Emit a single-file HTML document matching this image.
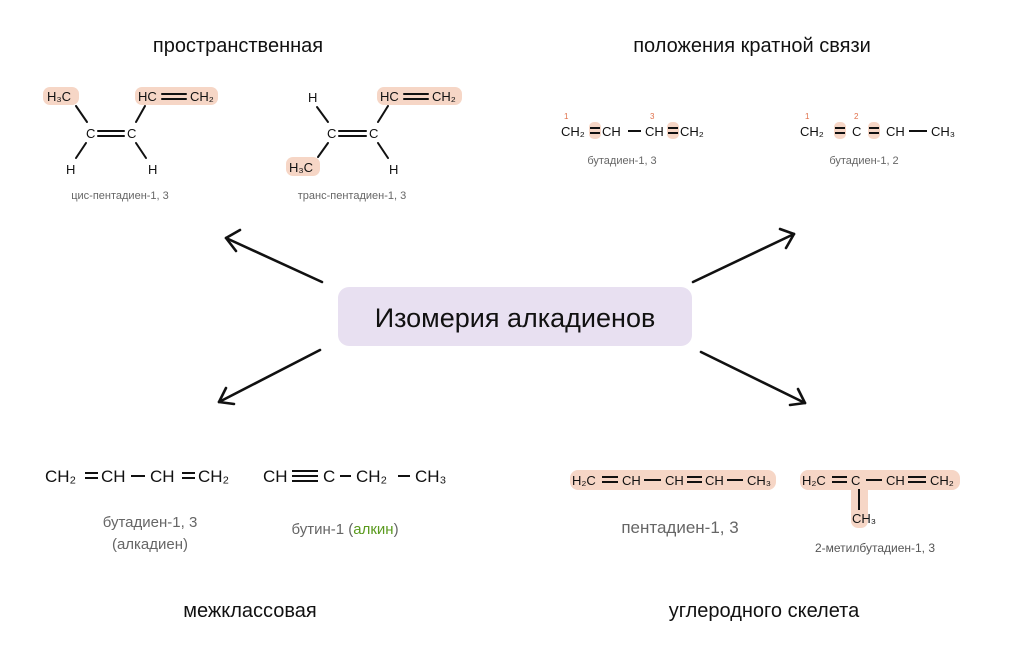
<!DOCTYPE html>
<html><head><meta charset="utf-8"><style>
html,body{margin:0;padding:0;background:#fff;}
svg{display:block;font-family:"Liberation Sans",sans-serif;}
</style></head><body>
<svg width="1024" height="650" viewBox="0 0 1024 650" xmlns="http://www.w3.org/2000/svg">
<!-- titles -->
<g font-size="20" fill="#111" text-anchor="middle">
<text x="238" y="52">пространственная</text>
<text x="752" y="52">положения кратной связи</text>
<text x="250" y="617">межклассовая</text>
<text x="764" y="617">углеродного скелета</text>
</g>
<!-- center -->
<rect x="338" y="287" width="354" height="59" rx="11" fill="#e8e0f1"/>
<text x="515" y="327" font-size="27" text-anchor="middle" fill="#111">Изомерия алкадиенов</text>
<!-- arrows -->
<g stroke="#111" stroke-width="2.6" fill="none" stroke-linecap="round" stroke-linejoin="round">
<line x1="322" y1="282" x2="226" y2="238"/><polyline points="240,230 226,238 236,251"/>
<line x1="693" y1="282" x2="794" y2="234"/><polyline points="780,229 794,234 786,248"/>
<line x1="320" y1="350" x2="219" y2="402"/><polyline points="226,388 219,402 234,404"/>
<line x1="701" y1="352" x2="805" y2="403"/><polyline points="790,405 805,403 798,389"/>
</g>
<!-- highlights -->
<g fill="#f6d6c6">
<rect x="43" y="87" width="36" height="18" rx="7"/>
<rect x="135" y="87" width="83" height="18" rx="7"/>
<rect x="377" y="87" width="85" height="18" rx="7"/>
<rect x="286" y="157" width="34" height="19" rx="7"/>
<rect x="589" y="122" width="12" height="17" rx="5"/>
<rect x="667" y="122" width="12" height="17" rx="5"/>
<rect x="834" y="122" width="12" height="17" rx="5"/>
<rect x="868" y="122" width="12" height="17" rx="5"/>
<rect x="570" y="470" width="206" height="20" rx="8"/>
<rect x="800" y="470" width="160" height="20" rx="8"/>
<rect x="851" y="470" width="17" height="58" rx="7"/>
</g>
<!-- cis/trans -->
<g font-size="13" fill="#111">
<text x="47" y="101">H₃C</text>
<text x="138" y="101">HC</text><text x="190" y="101">CH₂</text>
<text x="86" y="138">C</text><text x="127" y="138">C</text>
<text x="66" y="174">H</text><text x="148" y="174">H</text>
<text x="308" y="102">H</text>
<text x="380" y="101">HC</text><text x="432" y="101">CH₂</text>
<text x="327" y="138">C</text><text x="369" y="138">C</text>
<text x="289" y="172">H₃C</text><text x="389" y="174">H</text>
</g>
<g stroke="#111" stroke-width="2" stroke-linecap="round">
<line x1="76" y1="106" x2="87" y2="122"/><line x1="145" y1="106" x2="136" y2="122"/>
<line x1="86" y1="143" x2="76" y2="158"/><line x1="136" y1="143" x2="146" y2="158"/>
<line x1="98" y1="131" x2="124" y2="131"/><line x1="98" y1="136" x2="124" y2="136"/>
<line x1="162" y1="94" x2="186" y2="94"/><line x1="162" y1="99" x2="186" y2="99"/>
<line x1="317" y1="107" x2="328" y2="122"/><line x1="388" y1="106" x2="378" y2="122"/>
<line x1="328" y1="143" x2="318" y2="157"/><line x1="378" y1="143" x2="388" y2="158"/>
<line x1="339" y1="131" x2="366" y2="131"/><line x1="339" y1="136" x2="366" y2="136"/>
<line x1="404" y1="94" x2="428" y2="94"/><line x1="404" y1="99" x2="428" y2="99"/>
</g>
<g font-size="11" fill="#666" text-anchor="middle">
<text x="120" y="199">цис-пентадиен-1, 3</text>
<text x="352" y="199">транс-пентадиен-1, 3</text>
<text x="622" y="164">бутадиен-1, 3</text>
<text x="864" y="164">бутадиен-1, 2</text>
</g>
<!-- position isomers -->
<g font-size="8" fill="#e0704a"><text x="564" y="119">1</text><text x="650" y="119">3</text><text x="805" y="119">1</text><text x="854" y="119">2</text></g>
<g font-size="13" fill="#111">
<text x="561" y="136">CH₂</text><text x="602" y="136">CH</text><text x="645" y="136">CH</text><text x="680" y="136">CH₂</text>
<text x="800" y="136">CH₂</text><text x="852" y="136">C</text><text x="886" y="136">CH</text><text x="931" y="136">CH₃</text>
</g>
<g stroke="#111" stroke-width="2">
<line x1="590" y1="128" x2="600" y2="128"/><line x1="590" y1="133" x2="600" y2="133"/>
<line x1="668" y1="128" x2="678" y2="128"/><line x1="668" y1="133" x2="678" y2="133"/>
<line x1="628" y1="131" x2="641" y2="131"/>
<line x1="835" y1="128" x2="845" y2="128"/><line x1="835" y1="133" x2="845" y2="133"/>
<line x1="869" y1="128" x2="879" y2="128"/><line x1="869" y1="133" x2="879" y2="133"/>
<line x1="909" y1="131" x2="927" y2="131"/>
</g>
<!-- interclass -->
<g font-size="17" fill="#111">
<text x="45" y="482">CH₂</text><text x="101" y="482">CH</text><text x="150" y="482">CH</text><text x="198" y="482">CH₂</text>
<text x="263" y="482">CH</text><text x="323" y="482">C</text><text x="356" y="482">CH₂</text><text x="415" y="482">CH₃</text>
</g>
<g stroke="#111" stroke-width="2">
<line x1="85" y1="473" x2="98" y2="473"/><line x1="85" y1="478" x2="98" y2="478"/>
<line x1="131" y1="476" x2="145" y2="476"/>
<line x1="182" y1="473" x2="195" y2="473"/><line x1="182" y1="478" x2="195" y2="478"/>
<line x1="292" y1="471" x2="318" y2="471"/><line x1="292" y1="476" x2="318" y2="476"/><line x1="292" y1="481" x2="318" y2="481"/>
<line x1="340" y1="476" x2="351" y2="476"/><line x1="398" y1="476" x2="410" y2="476"/>
</g>
<g font-size="15" fill="#666" text-anchor="middle">
<text x="150" y="527">бутадиен-1, 3</text>
<text x="150" y="549">(алкадиен)</text>
<text x="345" y="534">бутин-1 (<tspan fill="#5a9a1e">алкин</tspan>)</text>
</g>
<!-- skeleton -->
<g font-size="13" fill="#111">
<text x="572" y="485">H₂C</text><text x="622" y="485">CH</text><text x="665" y="485">CH</text><text x="705" y="485">CH</text><text x="747" y="485">CH₃</text>
<text x="802" y="485">H₂C</text><text x="851" y="485">C</text><text x="886" y="485">CH</text><text x="930" y="485">CH₂</text>
<text x="852" y="523">CH₃</text>
</g>
<g stroke="#111" stroke-width="2">
<line x1="602" y1="477" x2="618" y2="477"/><line x1="602" y1="482" x2="618" y2="482"/>
<line x1="644" y1="480" x2="661" y2="480"/>
<line x1="687" y1="477" x2="702" y2="477"/><line x1="687" y1="482" x2="702" y2="482"/>
<line x1="727" y1="480" x2="743" y2="480"/>
<line x1="832" y1="477" x2="847" y2="477"/><line x1="832" y1="482" x2="847" y2="482"/>
<line x1="866" y1="480" x2="882" y2="480"/>
<line x1="908" y1="477" x2="926" y2="477"/><line x1="908" y1="482" x2="926" y2="482"/>
<line x1="859" y1="489" x2="859" y2="510"/>
</g>
<text x="680" y="533" font-size="17" fill="#666" text-anchor="middle">пентадиен-1, 3</text>
<text x="875" y="552" font-size="12" fill="#555" text-anchor="middle">2-метилбутадиен-1, 3</text>
</svg>
</body></html>
